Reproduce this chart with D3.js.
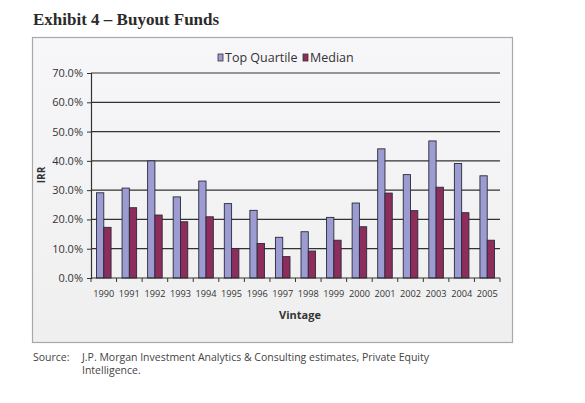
<!DOCTYPE html>
<html><head><meta charset="utf-8">
<script src="https://cdn.jsdelivr.net/npm/d3@7"></script>
<style>body{margin:0;background:#fff}svg{display:block}</style>
</head><body>
<svg id="c" width="585" height="403"></svg>
<script>
const years = ["1990","1991","1992","1993","1994","1995","1996","1997","1998","1999","2000","2001","2002","2003","2004","2005"];
const topQuartile = [29.1,30.7,40.0,27.7,33.1,25.4,23.1,13.9,15.8,20.7,25.6,44.1,35.3,46.8,39.1,34.9];
const median = [17.3,24.0,21.5,19.2,20.9,10.1,11.8,7.3,9.2,12.9,17.5,29.0,23.0,31.0,22.3,12.9];
const seriesNames = ["Top Quartile","Median"];
const yTicks = [0,10,20,30,40,50,60,70];

const colors = ["#9c9cd2","#8e2d5c"];
const svg = d3.select("#c");
const defs = svg.append("defs");
const g1 = defs.append("linearGradient").attr("id","bg").attr("x1",0).attr("y1",0).attr("x2",0).attr("y2",1);
g1.append("stop").attr("offset","0%").attr("stop-color","#f7f7fa");
g1.append("stop").attr("offset","100%").attr("stop-color","#efefef");

svg.append("text").attr("x",33).attr("y",25).attr("font-family","Liberation Serif").attr("font-weight","bold")
  .attr("font-size",17).attr("fill","#2b2b2b").text("Exhibit 4 – Buyout Funds");

svg.append("rect").attr("x",32.5).attr("y",37.5).attr("width",480).attr("height",305)
  .attr("fill","url(#bg)").attr("stroke","#a8a8a8").attr("stroke-width",1.2);

const L=91, R=500, T=73, B=278;
const x = d3.scaleBand().domain(years).range([L,R]).paddingInner(0.43).paddingOuter(0.215);
const xs = d3.scaleBand().domain(seriesNames).range([0,x.bandwidth()]);
const y = d3.scaleLinear().domain([0,70]).range([B,T]);

// gridlines
svg.append("g").selectAll("line").data(yTicks.filter(d=>d>0)).join("line")
  .attr("x1",L).attr("x2",R).attr("y1",d=>y(d)).attr("y2",d=>y(d))
  .attr("stroke","#333").attr("stroke-width",1.2);

// bars
const data = years.map((yr,i)=>({yr, vals:[topQuartile[i],median[i]]}));
const grp = svg.append("g").selectAll("g").data(data).join("g").attr("transform",d=>`translate(${x(d.yr)},0)`);
grp.selectAll("rect").data(d=>d.vals.map((v,j)=>({v,s:seriesNames[j],j}))).join("rect")
  .attr("x",d=>xs(d.s)).attr("width",xs.bandwidth()).attr("y",d=>y(d.v)).attr("height",d=>B-y(d.v))
  .attr("fill",d=>colors[d.j]).attr("stroke","#2a2a3a").attr("stroke-width",0.9);

// y axis
const yAxis = d3.axisLeft(y).tickValues(yTicks).tickFormat(d=>d.toFixed(1)+"%").tickSize(4).tickPadding(4);
const ya = svg.append("g").attr("transform",`translate(${L},0)`).call(yAxis);
ya.select(".domain").attr("stroke","#333").attr("stroke-width",1.2);
ya.selectAll(".tick line").attr("stroke","#333");
ya.selectAll("text").attr("font-family","Open Sans").attr("font-size",11).attr("fill","#333");

// x axis
const xa = svg.append("g").attr("transform",`translate(0,${B})`);
xa.append("line").attr("x1",L).attr("x2",R).attr("y1",0).attr("y2",0).attr("stroke","#333").attr("stroke-width",1.2);
xa.selectAll("line.t").data(d3.range(years.length+1)).join("line").attr("class","t")
  .attr("x1",i=>L+i*(R-L)/years.length).attr("x2",i=>L+i*(R-L)/years.length).attr("y1",0).attr("y2",4)
  .attr("stroke","#333");
xa.selectAll("text").data(years).join("text")
  .attr("x",d=>x(d)+x.bandwidth()/2).attr("y",19).attr("text-anchor","middle")
  .attr("font-family","Open Sans").attr("font-size",9.2).attr("fill","#333").text(d=>d);

svg.append("text").attr("x",300).attr("y",319).attr("text-anchor","middle")
  .attr("font-family","Open Sans").attr("font-weight","bold").attr("font-size",11).attr("fill","#333").text("Vintage");
svg.append("text").attr("transform","translate(45,175) rotate(-90)").attr("text-anchor","middle")
  .attr("font-family","Open Sans").attr("font-weight","bold").attr("font-size",10).attr("fill","#333").text("IRR");

// legend
const lg = svg.append("g");
const lx = [218, 303];
seriesNames.forEach((s,i)=>{
  lg.append("rect").attr("x",lx[i]).attr("y",54).attr("width",5).attr("height",7)
    .attr("fill",colors[i]).attr("stroke","#333").attr("stroke-width",0.8);
  lg.append("text").attr("x",lx[i]+7).attr("y",62).attr("font-family","Open Sans").attr("font-size",12.5)
    .attr("fill","#333").text(s);
});

// source
const st = svg.append("g").attr("font-family","Open Sans").attr("font-size",10.5).attr("fill","#444");
st.append("text").attr("x",33).attr("y",361).text("Source:");
st.append("text").attr("x",82).attr("y",361).text("J.P. Morgan Investment Analytics & Consulting estimates, Private Equity");
st.append("text").attr("x",82).attr("y",374).text("Intelligence.");
</script>
</body></html>
